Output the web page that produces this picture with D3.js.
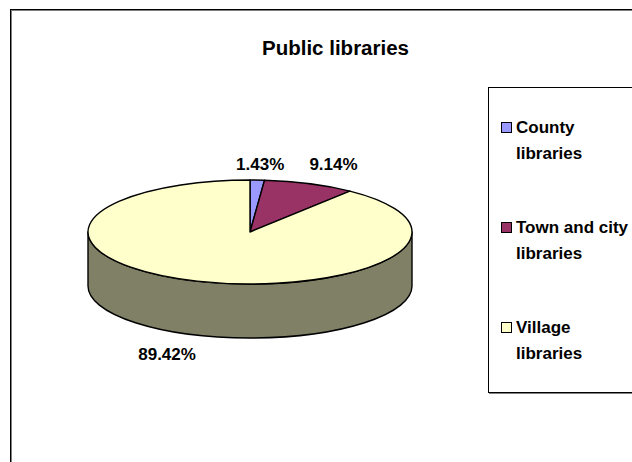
<!DOCTYPE html>
<html>
<head>
<meta charset="utf-8">
<script src="https://cdn.jsdelivr.net/npm/d3@7/dist/d3.min.js"></script>
<style>
  html, body { margin: 0; padding: 0; background: #fff; }
  svg { display: block; }
  text { font-family: "Liberation Sans", Arial, sans-serif; font-weight: bold; fill: #000; }
</style>
</head>
<body>
<svg id="chart" width="632" height="462"></svg>
<script>
// ---- data ----
const title = "Public libraries";
const categories = ["County libraries", "Town and city libraries", "Village libraries"];
const legendLines = [["County", "libraries"], ["Town and city", "libraries"], ["Village", "libraries"]];
const values = [1.43, 9.14, 89.42];
const valueLabels = ["1.43%", "9.14%", "89.42%"];
const topColors = ["#9999FF", "#993366", "#FFFFCC"];
const sideColors = ["#4D4D80", "#4D1A33", "#808066"];

// ---- layout ----
const W = 632, H = 462;
const cx = 250, cy = 232, rx = 162, ry = 52, depth = 54;

const svg = d3.select("#chart");

// chart area border (extends beyond window on right/bottom)
svg.append("rect").attr("x", 11.5).attr("y", 10.5).attr("width", W).attr("height", H)
  .attr("fill", "none").attr("stroke", "#808080").attr("stroke-width", 1);
svg.append("rect").attr("x", 10.5).attr("y", 9.5).attr("width", W).attr("height", H)
  .attr("fill", "none").attr("stroke", "#000").attr("stroke-width", 1);

// title
svg.append("text").attr("x", 335.5).attr("y", 55).attr("text-anchor", "middle")
  .attr("textLength", 147).attr("lengthAdjust", "spacingAndGlyphs")
  .style("font-size", "20px").text(title);

const color = d3.scaleOrdinal().domain(categories).range(topColors);
const sideColor = d3.scaleOrdinal().domain(categories).range(sideColors);

const pie = d3.pie().sort(null).value(d => d.v).startAngle(0).endAngle(2 * Math.PI);
const data = categories.map((c, i) => ({ c, v: values[i], label: valueLabels[i] }));
const arcs = pie(data);

const px = a => cx + rx * Math.sin(a);
const py = a => cy - ry * Math.cos(a);

const g = svg.append("g");

// outer side walls: visible front half = angles from PI/2 to 3PI/2
const frontStart = Math.PI / 2, frontEnd = 3 * Math.PI / 2;
arcs.forEach(d => {
  const a1 = Math.max(d.startAngle, frontStart);
  const a2 = Math.min(d.endAngle, frontEnd);
  if (a2 <= a1) return;
  const large = (a2 - a1) > Math.PI ? 1 : 0;
  const p = `M${px(a1)},${py(a1)} A${rx},${ry} 0 ${large} 1 ${px(a2)},${py(a2)}` +
            ` L${px(a2)},${py(a2) + depth} A${rx},${ry} 0 ${large} 0 ${px(a1)},${py(a1) + depth} Z`;
  g.append("path").attr("d", p).attr("fill", sideColor(d.data.c))
    .attr("stroke", "#000").attr("stroke-width", 1.4).attr("stroke-linejoin", "round");
});

// top faces
arcs.forEach(d => {
  const a1 = d.startAngle, a2 = d.endAngle;
  const large = (a2 - a1) > Math.PI ? 1 : 0;
  const p = `M${cx},${cy} L${px(a1)},${py(a1)} A${rx},${ry} 0 ${large} 1 ${px(a2)},${py(a2)} Z`;
  g.append("path").attr("d", p).attr("fill", color(d.data.c))
    .attr("stroke", "#000").attr("stroke-width", 1.4).attr("stroke-linejoin", "round");
});

// value labels (outside end, below-front labels pushed past the side wall)
const k = 1.4;
arcs.forEach(d => {
  const m = (d.startAngle + d.endAngle) / 2;
  const c = Math.cos(m), s = Math.sin(m);
  const front = c < 0;
  const kx = front ? 1.57 : k;
  const lx = cx + kx * rx * s;
  let ly = cy - k * ry * Math.sign(c) * Math.min(Math.abs(c), 0.93);
  if (front) ly += depth;
  svg.append("text").attr("x", lx).attr("y", ly).attr("dy", "0.36em")
    .attr("text-anchor", "middle").style("font-size", "17px").text(d.data.label);
});

// legend box
const lgX = 488, lgY = 87, lgW = 200, lgH = 305;
svg.append("rect").attr("x", lgX + 1.5).attr("y", lgY + 1.5).attr("width", lgW).attr("height", lgH)
  .attr("fill", "none").attr("stroke", "#808080").attr("stroke-width", 1);
svg.append("rect").attr("x", lgX + 0.5).attr("y", lgY + 0.5).attr("width", lgW).attr("height", lgH)
  .attr("fill", "#fff").attr("stroke", "#000").attr("stroke-width", 1);

const legendY = d3.scalePoint().domain(categories).range([133, 333]);
categories.forEach((c, i) => {
  const y = legendY(c);
  svg.append("rect").attr("x", 501.5).attr("y", y - 10.5).attr("width", 10).attr("height", 10)
    .attr("fill", color(c)).attr("stroke", "#000").attr("stroke-width", 1);
  legendLines[i].forEach((t, j) => {
    svg.append("text").attr("x", 516).attr("y", y + j * 25.5)
      .style("font-size", "17px").text(t);
  });
});
</script>
</body>
</html>
